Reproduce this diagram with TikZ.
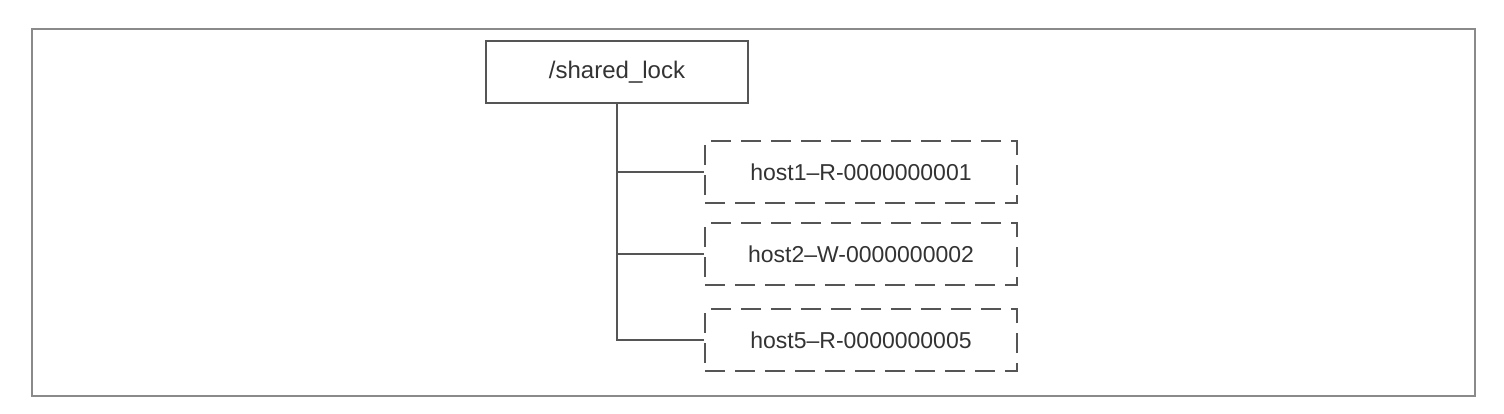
\documentclass[tikz,border=0pt]{standalone}
\usepackage{fontspec}
\setmainfont{Liberation Sans}
\definecolor{lineg}{HTML}{555555}
\definecolor{frameg}{HTML}{8A8A8A}
\definecolor{textg}{HTML}{333333}
\begin{document}
\begin{tikzpicture}[x=1pt,y=-1pt,
  rootbox/.style={draw=lineg, line width=1.6pt, minimum width=262pt, minimum height=62pt, inner sep=0pt, text=textg, font=\fontsize{24}{28}\selectfont},
  childbox/.style={draw=lineg, line width=1.6pt, dash pattern=on 20pt off 10pt, minimum width=312pt, minimum height=62pt, inner sep=0pt, text=textg, font=\fontsize{23}{27}\selectfont},
  conn/.style={draw=lineg, line width=1.6pt}]
\useasboundingbox (0,0) rectangle (1504,414);
\draw[frameg, line width=1.6pt] (32,29) rectangle (1475,396);
\node[rootbox] (root) at (617,72) {/shared\_lock};
\node[childbox] (c1) at (861,172) {host1–R-0000000001};
\node[childbox] (c2) at (861,254) {host2–W-0000000002};
\node[childbox] (c3) at (861,340) {host5–R-0000000005};
\draw[conn] (root.south) -- (root.south |- c3.west) -- (c3.west);
\draw[conn] (root.south |- c1.west) -- (c1.west);
\draw[conn] (root.south |- c2.west) -- (c2.west);
\end{tikzpicture}
\end{document}
